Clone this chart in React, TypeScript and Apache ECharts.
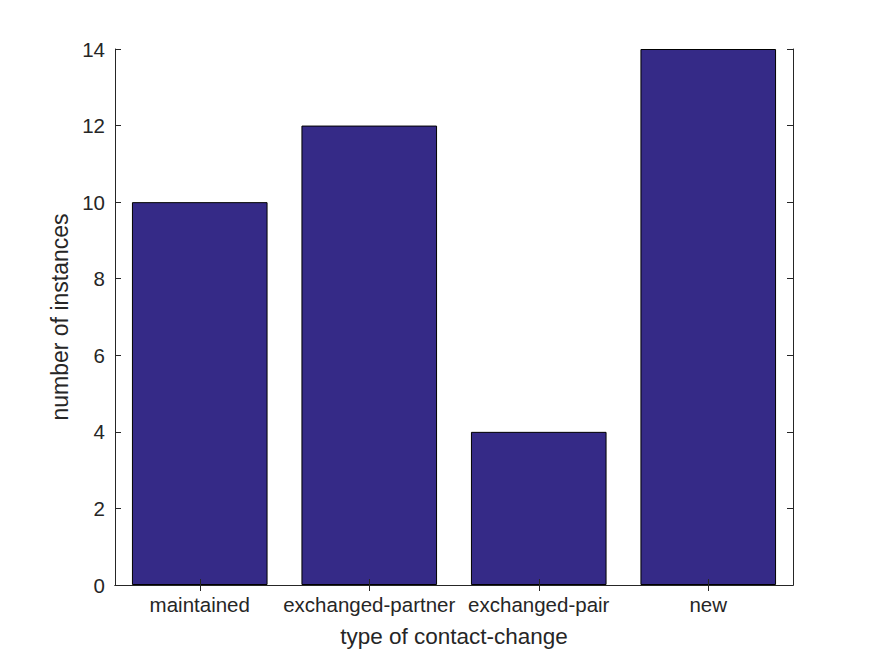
import React, { useEffect, useRef } from "react";
import * as echarts from "echarts";

const categories = ["maintained", "exchanged-partner", "exchanged-pair", "new"];
const counts = [10, 12, 4, 14];
const yTicks = { min: 0, max: 14, interval: 2 };

export default function App() {
  const ref = useRef<HTMLDivElement>(null);
  useEffect(() => {
    if (!ref.current) return;
    const chart = echarts.init(ref.current, null, { renderer: "svg" });
    const font = "Liberation Sans, Arial, Helvetica, sans-serif";
    const axisLine = { show: true, lineStyle: { color: "#262626", width: 1 } };
    chart.setOption({
      animation: false,
      backgroundColor: "#fff",
      grid: { left: 115, top: 49, width: 678, height: 536, containLabel: false },
      xAxis: [
        {
          type: "category",
          data: categories,
          position: "bottom",
          z: 5,
          boundaryGap: true,
          axisLine,
          axisTick: { show: true, inside: true, alignWithLabel: true, interval: 0, length: 6, lineStyle: { color: "#262626" } },
          axisLabel: { color: "#262626", fontSize: 20.5, fontFamily: font, margin: 9, interval: 0, hideOverlap: false },
          name: "type of contact-change",
          nameLocation: "middle",
          nameGap: 40,
          nameTextStyle: { color: "#262626", fontSize: 22.5, fontFamily: font },
          splitLine: { show: false },
        },
        {
          type: "category",
          data: categories,
          position: "top",
          z: 5,
          boundaryGap: true,
          axisLine,
          axisTick: { show: true, inside: true, alignWithLabel: true, interval: 0, length: 6, lineStyle: { color: "#262626" } },
          axisLabel: { show: false, interval: 0 },
          splitLine: { show: false },
        },
      ],
      yAxis: [
        {
          type: "value",
          min: yTicks.min,
          max: yTicks.max,
          interval: yTicks.interval,
          position: "left",
          z: 5,
          axisLine,
          axisTick: { show: true, inside: true, length: 6, lineStyle: { color: "#262626" } },
          axisLabel: { color: "#262626", fontSize: 20.5, fontFamily: font, margin: 10 },
          splitLine: { show: false },
          name: "number of instances",
          nameLocation: "middle",
          nameGap: 37,
          nameRotate: 90,
          nameTextStyle: { color: "#262626", fontSize: 23, fontFamily: font },
        },
        {
          type: "value",
          min: yTicks.min,
          max: yTicks.max,
          interval: yTicks.interval,
          position: "right",
          z: 5,
          axisLine,
          axisTick: { show: true, inside: true, length: 6, lineStyle: { color: "#262626" } },
          axisLabel: { show: false },
          splitLine: { show: false },
        },
      ],
      series: [
        {
          type: "bar",
          data: counts,
          xAxisIndex: 0,
          yAxisIndex: 0,
          barCategoryGap: "20%",
          itemStyle: { color: "#352a87", borderColor: "#000", borderWidth: 1 },
        },
      ],
    });
    return () => chart.dispose();
  }, []);
  return <div ref={ref} style={{ width: 875, height: 656, position: "absolute", left: 0, top: 0 }} />;
}
